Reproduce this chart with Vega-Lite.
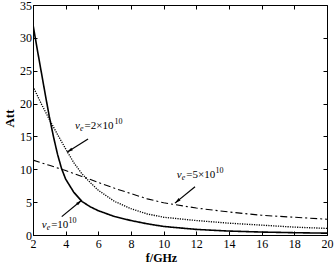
{
  "$schema": "https://vega.github.io/schema/vega-lite/v6.json",
  "width": 294,
  "height": 230,
  "autosize": {"type": "none"},
  "padding": {"left": 33, "top": 5, "right": 8, "bottom": 32},
  "background": "white",
  "config": {
    "view": {"stroke": "black", "strokeWidth": 1},
    "font": "Liberation Serif",
    "axis": {
      "labelFont": "Liberation Serif",
      "titleFont": "Liberation Serif",
      "labelColor": "black",
      "titleColor": "black",
      "labelFontSize": 12,
      "titleFontSize": 13,
      "titleFontWeight": "bold",
      "domainColor": "black",
      "tickColor": "black",
      "grid": false,
      "tickSize": -4,
      "labelFlush": false,
      "labelOverlap": false,
      "labelBound": false
    }
  },
  "resolve": {"axis": {"x": "independent", "y": "independent"}},
  "datasets": {
    "curves": [
      {"f": 2, "att": 32.0, "s": "v1"},
      {"f": 2.25, "att": 28.4, "s": "v1"},
      {"f": 2.5, "att": 24.9, "s": "v1"},
      {"f": 2.75, "att": 21.4, "s": "v1"},
      {"f": 3, "att": 18.0, "s": "v1"},
      {"f": 3.25, "att": 15.0, "s": "v1"},
      {"f": 3.5, "att": 12.3, "s": "v1"},
      {"f": 3.75, "att": 10.1, "s": "v1"},
      {"f": 4, "att": 8.5, "s": "v1"},
      {"f": 4.5, "att": 6.5, "s": "v1"},
      {"f": 5, "att": 5.1, "s": "v1"},
      {"f": 5.5, "att": 4.3, "s": "v1"},
      {"f": 6, "att": 3.7, "s": "v1"},
      {"f": 7, "att": 2.8, "s": "v1"},
      {"f": 8, "att": 2.2, "s": "v1"},
      {"f": 9, "att": 1.7, "s": "v1"},
      {"f": 10, "att": 1.3, "s": "v1"},
      {"f": 12, "att": 0.85, "s": "v1"},
      {"f": 14, "att": 0.6, "s": "v1"},
      {"f": 16, "att": 0.45, "s": "v1"},
      {"f": 18, "att": 0.35, "s": "v1"},
      {"f": 20, "att": 0.28, "s": "v1"},
      {"f": 2, "att": 22.6, "s": "v2"},
      {"f": 2.5, "att": 20.0, "s": "v2"},
      {"f": 3, "att": 17.6, "s": "v2"},
      {"f": 3.5, "att": 15.3, "s": "v2"},
      {"f": 4, "att": 13.1, "s": "v2"},
      {"f": 4.5, "att": 11.0, "s": "v2"},
      {"f": 5, "att": 9.3, "s": "v2"},
      {"f": 5.5, "att": 8.0, "s": "v2"},
      {"f": 6, "att": 6.8, "s": "v2"},
      {"f": 7, "att": 5.1, "s": "v2"},
      {"f": 8, "att": 4.0, "s": "v2"},
      {"f": 9, "att": 3.2, "s": "v2"},
      {"f": 10, "att": 2.7, "s": "v2"},
      {"f": 12, "att": 2.2, "s": "v2"},
      {"f": 14, "att": 1.8, "s": "v2"},
      {"f": 16, "att": 1.5, "s": "v2"},
      {"f": 18, "att": 1.2, "s": "v2"},
      {"f": 20, "att": 1.0, "s": "v2"},
      {"f": 2, "att": 11.4, "s": "v5"},
      {"f": 3, "att": 10.6, "s": "v5"},
      {"f": 4, "att": 9.8, "s": "v5"},
      {"f": 5, "att": 8.9, "s": "v5"},
      {"f": 6, "att": 8.0, "s": "v5"},
      {"f": 7, "att": 7.1, "s": "v5"},
      {"f": 8, "att": 6.3, "s": "v5"},
      {"f": 9, "att": 5.5, "s": "v5"},
      {"f": 10, "att": 4.9, "s": "v5"},
      {"f": 12, "att": 4.1, "s": "v5"},
      {"f": 14, "att": 3.5, "s": "v5"},
      {"f": 16, "att": 3.0, "s": "v5"},
      {"f": 18, "att": 2.7, "s": "v5"},
      {"f": 20, "att": 2.4, "s": "v5"}
    ],
    "notes": [
      {"sym": "ν", "sub": "e", "label": "=2×10", "sup": "10", "tx": 4.57, "ty": 16.1, "sx": 6.99, "x1": 5.37, "y1": 14.6, "x2": 4.08, "y2": 12.6, "dir": 238},
      {"sym": "ν", "sub": "e", "label": "=10", "sup": "10", "tx": 2.53, "ty": 1.07, "sx": 4.17, "x1": 3.76, "y1": 2.8, "x2": 4.98, "y2": 5.3, "dir": 50},
      {"sym": "ν", "sub": "e", "label": "=5×10", "sup": "10", "tx": 10.8, "ty": 8.67, "sx": 13.17, "x1": 11.92, "y1": 7.35, "x2": 10.69, "y2": 4.85, "dir": 230}
    ]
  },
  "layer": [
    {
      "data": {"name": "curves"},
      "mark": {"type": "line", "color": "black", "clip": true},
      "encoding": {
        "x": {"field": "f", "type": "quantitative", "scale": {"domain": [2, 20], "nice": false},
              "axis": {"values": [2,4,6,8,10,12,14,16,18,20], "title": "f/GHz", "labelPadding": 7,
                       "titleX": 128, "titleY": 26, "titleBaseline": "alphabetic", "titleAlign": "center", "titleFontSize": 12}},
        "y": {"field": "att", "type": "quantitative", "scale": {"domain": [0, 35], "nice": false},
              "axis": {"values": [0,5,10,15,20,25,30,35], "title": "Att", "labelPadding": 5.5,
                       "titleX": -20, "titleY": 113, "titleBaseline": "alphabetic", "titleAlign": "center", "titleAngle": -90}},
        "detail": {"field": "s"},
        "strokeDash": {"field": "s", "type": "nominal", "legend": null,
                       "scale": {"domain": ["v1", "v2", "v5"], "range": [[1, 0], [1.2, 1.2], [7, 3, 2, 3]]}},
        "strokeWidth": {"field": "s", "type": "nominal", "legend": null,
                        "scale": {"domain": ["v1", "v2", "v5"], "range": [1.6, 1.1, 1.2]}}
      }
    },
    {
      "data": {"name": "curves"},
      "mark": {"type": "point", "opacity": 0},
      "encoding": {
        "x": {"field": "f", "type": "quantitative",
              "axis": {"orient": "top", "values": [2,4,6,8,10,12,14,16,18,20], "labels": false, "title": null, "domain": false}},
        "y": {"field": "att", "type": "quantitative",
              "axis": {"orient": "right", "values": [0,5,10,15,20,25,30,35], "labels": false, "title": null, "domain": false}}
      }
    },
    {
      "data": {"name": "notes"},
      "mark": {"type": "rule", "color": "black", "strokeWidth": 1.2},
      "encoding": {
        "x": {"field": "x1", "type": "quantitative", "axis": null},
        "y": {"field": "y1", "type": "quantitative", "axis": null},
        "x2": {"field": "x2"},
        "y2": {"field": "y2"}
      }
    },
    {
      "data": {"name": "notes"},
      "mark": {"type": "point", "shape": "M0,0L-0.55,2.2L0.55,2.2Z", "filled": true, "color": "black", "size": 30, "opacity": 1},
      "encoding": {
        "x": {"field": "x2", "type": "quantitative", "axis": null},
        "y": {"field": "y2", "type": "quantitative", "axis": null},
        "angle": {"field": "dir", "type": "quantitative", "scale": null}
      }
    },
    {
      "data": {"name": "notes"},
      "mark": {"type": "text", "align": "left", "baseline": "alphabetic", "font": "Liberation Serif", "fontSize": 11, "fontStyle": "italic", "color": "black"},
      "encoding": {
        "x": {"field": "tx", "type": "quantitative", "axis": null},
        "y": {"field": "ty", "type": "quantitative", "axis": null},
        "text": {"field": "sym"}
      }
    },
    {
      "data": {"name": "notes"},
      "mark": {"type": "text", "align": "left", "baseline": "alphabetic", "font": "Liberation Serif", "fontSize": 8, "fontStyle": "italic", "dx": 5, "dy": 2, "color": "black"},
      "encoding": {
        "x": {"field": "tx", "type": "quantitative", "axis": null},
        "y": {"field": "ty", "type": "quantitative", "axis": null},
        "text": {"field": "sub"}
      }
    },
    {
      "data": {"name": "notes"},
      "mark": {"type": "text", "align": "left", "baseline": "alphabetic", "font": "Liberation Serif", "fontSize": 11, "dx": 9.5, "color": "black"},
      "encoding": {
        "x": {"field": "tx", "type": "quantitative", "axis": null},
        "y": {"field": "ty", "type": "quantitative", "axis": null},
        "text": {"field": "label"}
      }
    },
    {
      "data": {"name": "notes"},
      "mark": {"type": "text", "align": "left", "baseline": "alphabetic", "font": "Liberation Serif", "fontSize": 8, "dy": -5, "color": "black"},
      "encoding": {
        "x": {"field": "sx", "type": "quantitative", "axis": null},
        "y": {"field": "ty", "type": "quantitative", "axis": null},
        "text": {"field": "sup"}
      }
    }
  ]
}
